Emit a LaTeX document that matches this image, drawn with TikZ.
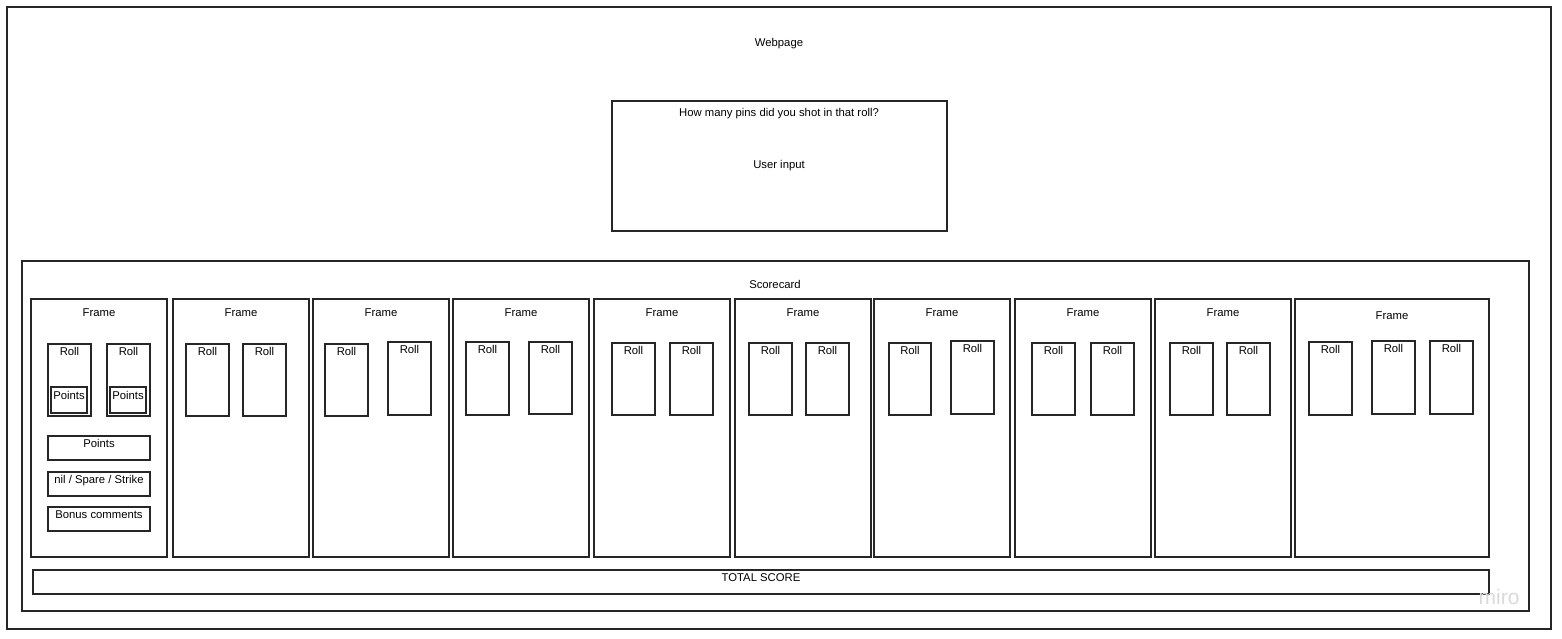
\documentclass[tikz,border=0pt]{standalone}
\usepackage{fontspec}
\setmainfont{Liberation Sans}
\definecolor{ink}{HTML}{262626}
\newcommand\rbox[5]{%
  \pgfmathsetmacro\bw{#4-#2}\pgfmathsetmacro\bh{#5-#3}%
  \node[bx, minimum width=\bw pt, minimum height=\bh pt, anchor=north west] (#1) at (#2,#3) {};}
\newcommand\rolls[6]{% name, x1,y1,x2,y2, unused
  \rbox{#1}{#2}{#3}{#4}{#5}%
  \node[lbl] (#1-t) at ([yshift=-6pt]#1.north) {Roll};}
\begin{document}
\begin{tikzpicture}[x=1pt,y=-1pt,
  bx/.style={draw=ink, line width=1.3pt, inner sep=0pt, outer sep=0pt},
  lbl/.style={inner sep=0pt, yshift=-1.8pt, font=\fontsize{11.3}{13}\selectfont, text=black}]
\useasboundingbox (0,0) rectangle (1562,639);
% outer webpage
\rbox{web}{7}{7}{1551}{629}
\node[lbl] (web-t) at (779,42) {Webpage};
% input box
\rbox{inp}{612}{101}{947}{231}
\node[lbl] (inp-t) at (779,112) {How many pins did you shot in that roll?};
\node[lbl] (inp-u) at (779,164) {User input};
% scorecard
\rbox{sc}{22}{261}{1529}{611}
\node[lbl] (sc-t) at (775,283) {Scorecard};
% frames
\rbox{f1}{31}{299}{167}{557}
\rbox{f2}{173}{299}{309}{557}
\rbox{f3}{313}{299}{449}{557}
\rbox{f4}{453}{299}{589}{557}
\rbox{f5}{594}{299}{730}{557}
\rbox{f6}{735}{299}{871}{557}
\rbox{f7}{874}{299}{1010}{557}
\rbox{f8}{1015}{299}{1151}{557}
\rbox{f9}{1155}{299}{1291}{557}
\rbox{f10}{1295}{299}{1489}{557}
\foreach \f in {f1,f2,f3,f4,f5,f6,f7,f8,f9}{
  \node[lbl] (\f-t) at ([yshift=-12pt]\f.north) {Frame};}
\node[lbl] (f10-t) at ([yshift=-15pt]f10.north) {Frame};
% rolls frame 1
\rolls{r1a}{48}{344}{91}{416}{}
\rolls{r1b}{107}{344}{150}{416}{}
\rbox{p1a}{51}{387}{87}{413}
\node[lbl] (p1a-t) at ([yshift=-7pt]p1a.north) {Points};
\rbox{p1b}{110}{387}{146}{413}
\node[lbl] (p1b-t) at ([yshift=-7pt]p1b.north) {Points};
\rbox{pts}{48}{436}{150}{460}
\node[lbl] (pts-t) at ([yshift=-6pt]pts.north) {Points};
\rbox{nss}{48}{472}{150}{496}
\node[lbl] (nss-t) at ([yshift=-7pt]nss.north) {nil / Spare / Strike};
\rbox{bon}{48}{507}{150}{531}
\node[lbl] (bon-t) at ([yshift=-6pt]bon.north) {Bonus comments};
% other rolls
\rolls{r2a}{186}{344}{229}{416}{}
\rolls{r2b}{243}{344}{286}{416}{}
\rolls{r3a}{325}{344}{368}{416}{}
\rolls{r3b}{388}{342}{431}{415}{}
\rolls{r4a}{466}{342}{509}{415}{}
\rolls{r4b}{529}{342}{572}{414}{}
\rolls{r5a}{612}{343}{655}{415}{}
\rolls{r5b}{670}{343}{713}{415}{}
\rolls{r6a}{749}{343}{792}{415}{}
\rolls{r6b}{806}{343}{849}{415}{}
\rolls{r7a}{889}{343}{931}{415}{}
\rolls{r7b}{951}{341}{994}{414}{}
\rolls{r8a}{1032}{343}{1075}{415}{}
\rolls{r8b}{1091}{343}{1134}{415}{}
\rolls{r9a}{1170}{343}{1213}{415}{}
\rolls{r9b}{1227}{343}{1270}{415}{}
\rolls{r10a}{1309}{342}{1352}{415}{}
\rolls{r10b}{1372}{341}{1415}{414}{}
\rolls{r10c}{1430}{341}{1473}{414}{}
% total score
\rbox{tot}{33}{570}{1489}{594}
\node[lbl] (tot-t) at ([yshift=-6pt]tot.north) {TOTAL SCORE};
% watermark
\node[inner sep=0pt, font=\fontsize{21}{24}\selectfont, text=black!15] (miro) at (1499,597) {miro};
\end{tikzpicture}
\end{document}
